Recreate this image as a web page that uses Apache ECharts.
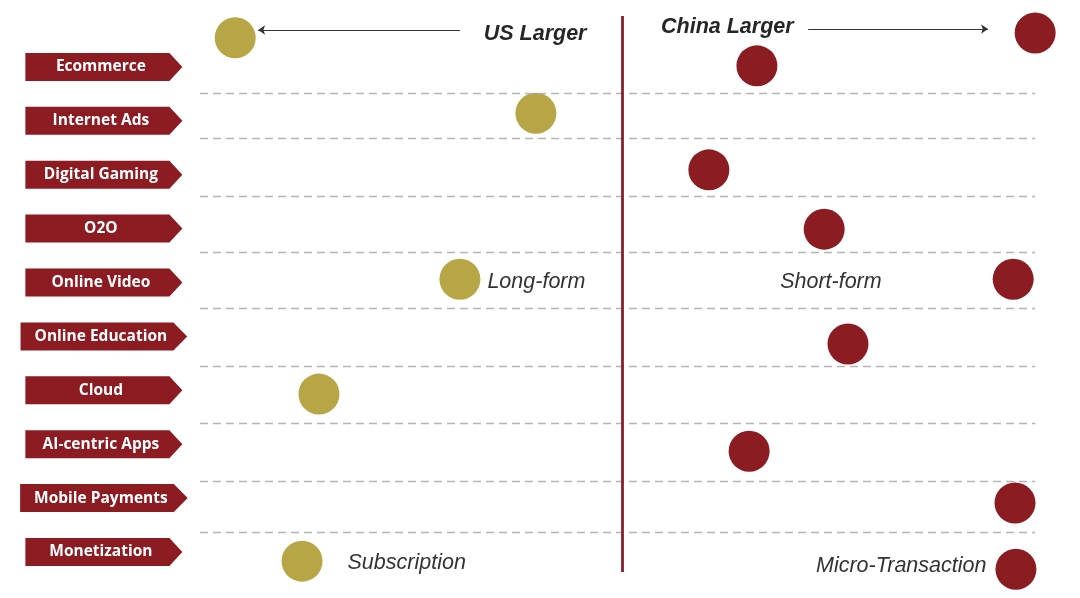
<!DOCTYPE html>
<html><head><meta charset="utf-8">
<script src="https://cdn.jsdelivr.net/npm/echarts@6/dist/echarts.min.js"></script>
<style>html,body{margin:0;padding:0;background:#fff}#c{width:1080px;height:598px}</style>
</head><body><div id="c"></div>
<script>
// ---- data ----
const categories = ['Ecommerce','Internet Ads','Digital Gaming','O2O','Online Video','Online Education','Cloud','AI-centric Apps','Mobile Payments','Monetization'];
// US-larger circles: lead score (negative = US side) and row position
const usLead  = [-84.6, -18.9, -35.5, -66.3, -70.0];
const usRows  = [0.46, 1.86, 4.94, 7.07, 10.17];
const usNotes = ['US Larger', '', 'Long-form', '', 'Subscription'];
// China-larger circles
const cnLead  = [90.2, 29.4, 18.9, 44.1, 85.4, 49.3, 27.7, 85.8, 86.0];
const cnRows  = [0.37, 0.98, 2.91, 4.01, 4.94, 6.14, 8.13, 9.09, 10.32];
const cnNotes = ['China Larger', '', '', '', 'Short-form', '', '', '', 'Micro-Transaction'];
// row dividers
const dividerRows = [1.484, 2.319, 3.395, 4.443, 5.473, 6.558, 7.616, 8.683, 9.629];
// legend arrows: [from lead, to lead, row]
const arrowLines = [[-35.5, -79.6, 0.315], [40.6, 79.9, 0.297]];

// ---- styles ----
const GOLD = '#b7a645', RED = '#8b1c22', TAG = '#8c1b22', TXT = '#333333';
const noteStyle = {
  'US Larger':        {position:'right', distance:228, bold:true, offset:[0,-4]},
  'China Larger':     {position:'left',  distance:221, bold:true, offset:[0,-6]},
  'Long-form':        {position:'right', distance:7,   bold:false, offset:[0,3]},
  'Short-form':       {position:'left',  distance:111, bold:false, offset:[0,3]},
  'Subscription':     {position:'right', distance:25,  bold:false, offset:[0,2]},
  'Micro-Transaction':{position:'left',  distance:9,   bold:false, offset:[0,-3]}
};
const TAG_X = -113.3;

const measureCtx = document.createElement('canvas').getContext('2d');
measureCtx.font = 'bold 15.5px "Open Sans"';
function tagWidth(name){ return Math.max(157, measureCtx.measureText(name).width + 34); }

function circleData(leads, rows, notes){
  return leads.map((x, i) => {
    const d = {value:[x, rows[i]]};
    const n = notes[i];
    if (n) {
      const s = noteStyle[n];
      d.label = {show:true, formatter:n, position:s.position, distance:s.distance, offset:s.offset,
        fontFamily:'Liberation Sans', fontSize:21.5, fontStyle:'italic', opacity:1,
        fontWeight: s.bold ? 'bold' : 'normal', color: s.bold ? '#262626' : TXT};
    }
    return d;
  });
}

const chart = echarts.init(document.getElementById('c'), null, {renderer:'canvas'});
chart.setOption({
  animation:false,
  backgroundColor:'#ffffff',
  grid:{left:0, right:0, top:13, bottom:13.66},
  xAxis:{type:'value', min:-136, max:100, show:false, splitLine:{show:false}},
  yAxis:{type:'value', min:0, max:10.6, inverse:true, show:false, splitLine:{show:false}},
  series:[
    {
      type:'scatter', name:'guides', data:[], silent:true, z:1,
      markLine:{
        silent:true, symbol:'none', label:{show:false}, animation:false,
        lineStyle:{color:'#b5b5b5', width:1.3, type:[8,5], opacity:1},
        data: dividerRows.map(r => [{coord:[-92.3, r]}, {coord:[90.2, r]}])
          .concat([[{coord:[0, 0.056], lineStyle:{color:'#86202b', width:2.8, type:'solid', opacity:1}},
                    {coord:[0, 10.37]}]])
      }
    },
    {
      type:'scatter', name:'arrows', data:[], silent:true, z:2,
      markLine:{
        silent:true, symbol:['none','arrow'], symbolSize:7, label:{show:false}, animation:false,
        lineStyle:{color:'#333', width:1, type:'solid', opacity:1},
        data: arrowLines.map(a => [{coord:[a[0], a[2]]}, {coord:[a[1], a[2]]}])
      }
    },
    {
      type:'scatter', name:'tags', z:3, silent:true,
      symbol:'path://M0,0 L144,0 L157,14 L144,28 L0,28 Z',
      symbolKeepAspect:false,
      symbolSize:(v, p) => [tagWidth(categories[p.dataIndex]), 28],
      itemStyle:{color:TAG, opacity:1},
      label:{show:true, position:'inside', formatter:p => categories[p.dataIndex], offset:[-3,0],
        color:'#fff', fontFamily:'Open Sans', fontWeight:'bold', fontSize:15.5},
      data: categories.map((c, i) => [TAG_X, i + 1])
    },
    {
      type:'scatter', name:'US Larger', z:4, symbol:'circle', symbolSize:41,
      itemStyle:{color:GOLD, opacity:1}, data:circleData(usLead, usRows, usNotes)
    },
    {
      type:'scatter', name:'China Larger', z:4, symbol:'circle', symbolSize:41,
      itemStyle:{color:RED, opacity:1}, data:circleData(cnLead, cnRows, cnNotes)
    }
  ]
});
</script></body></html>
